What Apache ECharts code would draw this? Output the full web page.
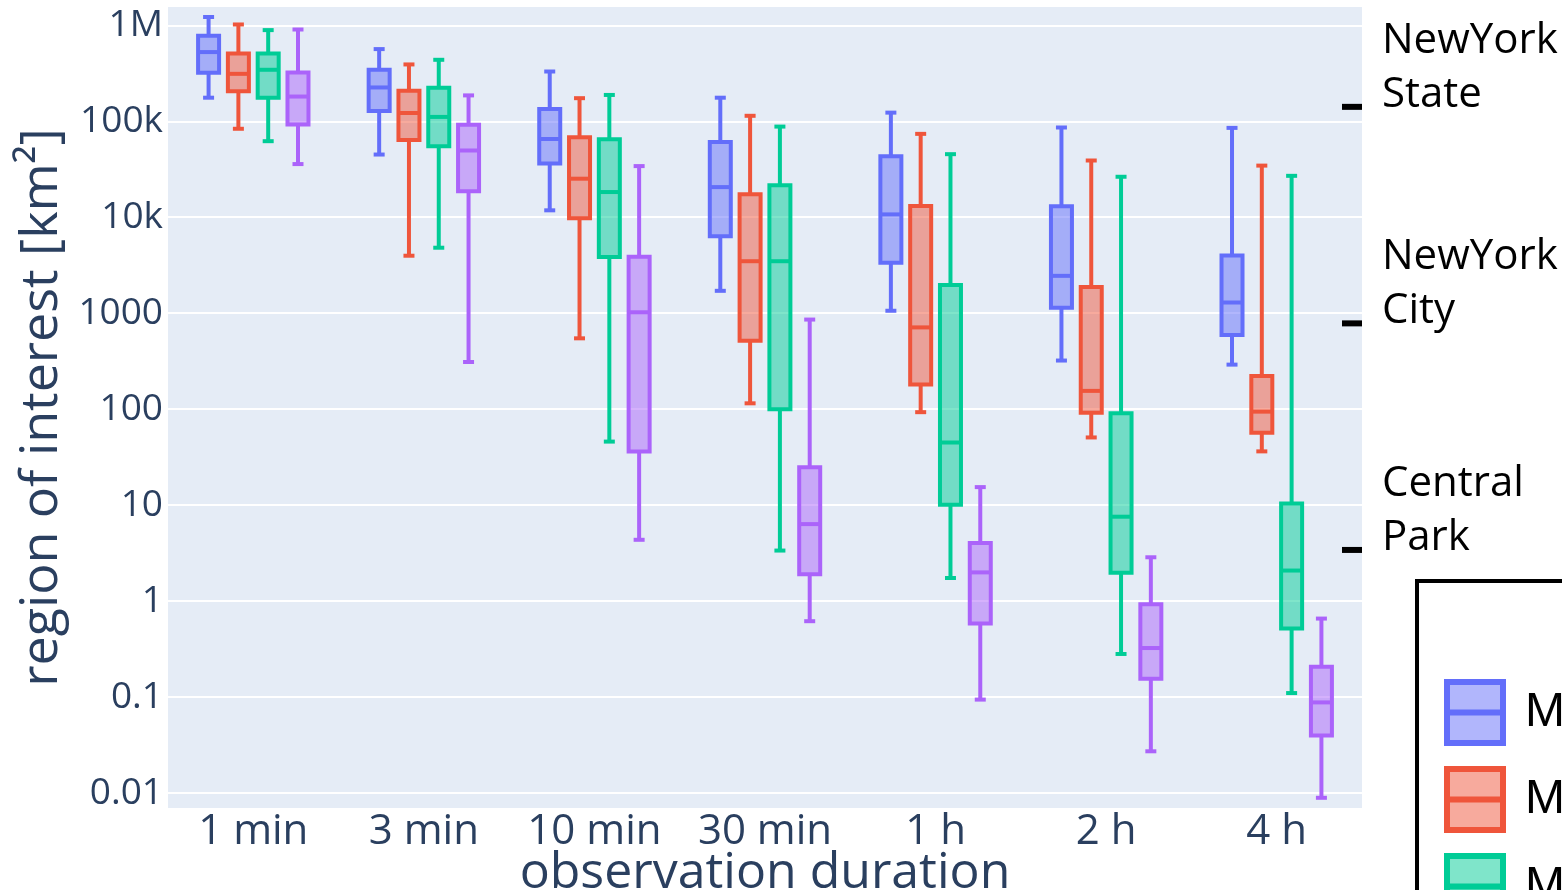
<!DOCTYPE html>
<html>
<head>
<meta charset="utf-8">
<script src="https://cdn.jsdelivr.net/npm/echarts@6/dist/echarts.min.js"></script>
<style>
html,body{margin:0;padding:0;background:#fff;}
#chart{width:1562px;height:890px;}
</style>
</head>
<body>
<div id="chart"></div>
<script>
// ---------------- data ----------------
const categories = ['1 min', '3 min', '10 min', '30 min', '1 h', '2 h', '4 h'];
const seriesNames = ['Method 1', 'Method 2', 'Method 3', 'Method 4'];

// each entry: [min, q1, median, q3, max] in km²
const methodA = [
  [176000, 320000, 526000, 778000, 1220000],
  [45000, 128000, 225000, 344000, 565000],
  [11800, 36300, 65300, 134000, 330000],
  [1710, 6340, 20600, 60900, 176000],
  [1060, 3360, 10700, 43300, 123000],
  [321, 1136, 2450, 13000, 86100],
  [291, 591, 1292, 3980, 85300]
];
const methodB = [
  [83500, 206000, 312000, 509000, 1020000],
  [3970, 63700, 122000, 208000, 391000],
  [547, 9770, 25200, 68000, 174000],
  [115, 517, 3480, 17400, 114000],
  [93, 181, 711, 13100, 73900],
  [50.7, 91.5, 155, 1875, 39000],
  [36.3, 56.8, 94.2, 222, 34500]
];
const methodC = [
  [62000, 176000, 344000, 509000, 891000],
  [4810, 55000, 111000, 223000, 437000],
  [45.9, 3860, 18300, 64900, 188000],
  [3.36, 99.7, 3480, 21500, 88000],
  [1.74, 10.1, 44.9, 1963, 45400],
  [0.281, 1.97, 7.57, 90.6, 26400],
  [0.11, 0.517, 2.08, 10.4, 27000]
];
const methodD = [
  [35800, 92600, 181000, 322000, 904000],
  [310, 18700, 49600, 92000, 186000],
  [4.35, 36.1, 1022, 3880, 34100],
  [0.617, 1.9, 6.34, 24.8, 858],
  [0.094, 0.585, 1.99, 4.02, 15.4],
  [0.0272, 0.155, 0.324, 0.924, 2.86],
  [0.00891, 0.0398, 0.0879, 0.207, 0.657]
];

const yTickValues = [0.01, 0.1, 1, 10, 100, 1000, 10000, 100000, 1000000];
const yTickLabels = ['0.01', '0.1', '1', '10', '100', '1000', '10k', '100k', '1M'];

const landmarkNames = ['NewYork\nState', 'NewYork\nCity', 'Central\nPark'];
const landmarkAreas = [141300, 783, 3.41];

// ---------------- style ----------------
const colors = ['#636efa', '#EF553B', '#00cc96', '#ab63fa'];
const fills = ['rgba(99,110,250,0.5)', 'rgba(239,85,59,0.5)', 'rgba(0,204,150,0.5)', 'rgba(171,99,250,0.5)'];
const offsets = [-44.7, -14.9, 14.9, 44.7];
const BOX_W = 21, CAP_W = 11, LW = 4;
const GRID = { left: 168, right: 200, top: 6, bottom: 81 };
const FONT = '"Open Sans", sans-serif';
const AXIS_COLOR = '#2a3f5f';

const allStats = [methodA, methodB, methodC, methodD];

function makeSeries(k) {
  return {
    type: 'custom',
    name: seriesNames[k],
    data: allStats[k].map((s, i) => [i].concat(s)),
    encode: { x: 0, y: [1, 2, 3, 4, 5] },
    itemStyle: { color: colors[k] },
    z: 2 + k,
    renderItem: function (params, api) {
      const ci = api.value(0);
      const pt = v => api.coord([ci, v]);
      const cx = pt(api.value(3))[0] + offsets[k];
      const yMin = pt(api.value(1))[1];
      const yQ1 = pt(api.value(2))[1];
      const yMed = pt(api.value(3))[1];
      const yQ3 = pt(api.value(4))[1];
      const yMax = pt(api.value(5))[1];
      const ls = { stroke: colors[k], lineWidth: LW, fill: null };
      return {
        type: 'group',
        children: [
          { type: 'line', shape: { x1: cx, y1: yMax, x2: cx, y2: yQ3 }, style: ls },
          { type: 'line', shape: { x1: cx, y1: yQ1, x2: cx, y2: yMin }, style: ls },
          { type: 'line', shape: { x1: cx - CAP_W / 2, y1: yMax, x2: cx + CAP_W / 2, y2: yMax }, style: ls },
          { type: 'line', shape: { x1: cx - CAP_W / 2, y1: yMin, x2: cx + CAP_W / 2, y2: yMin }, style: ls },
          { type: 'rect', shape: { x: cx - BOX_W / 2, y: yQ3, width: BOX_W, height: yQ1 - yQ3 },
            style: { fill: fills[k], stroke: colors[k], lineWidth: LW } },
          { type: 'line', shape: { x1: cx - BOX_W / 2, y1: yMed, x2: cx + BOX_W / 2, y2: yMed }, style: ls }
        ]
      };
    }
  };
}

const chart = echarts.init(document.getElementById('chart'), null, { renderer: 'canvas' });

const option = {
  backgroundColor: '#ffffff',
  animation: false,
  grid: {
    left: GRID.left, right: GRID.right, top: GRID.top, bottom: GRID.bottom,
    containLabel: false, outerBoundsMode: 'none',
    show: true, backgroundColor: '#e5ecf6', borderWidth: 0
  },
  legend: {
    orient: 'vertical',
    left: 1417, top: 581, width: 400, height: 330,
    padding: [98, 0, 0, 27],
    borderColor: '#000', borderWidth: 4, borderRadius: 0,
    itemWidth: 56, itemHeight: 61, itemGap: 20,
    textStyle: { fontSize: 48, fontFamily: '"Liberation Sans", Arial, sans-serif', color: '#000', padding: [0, 0, 0, 17] },
    data: seriesNames.map((n, k) => ({
      name: n,
      icon: 'path://M0,0H56V61H0ZM0,30.5H56',
      itemStyle: { color: fills[k], borderColor: colors[k], borderWidth: 6 }
    }))
  },
  xAxis: {
    type: 'category',
    data: categories,
    axisLine: { show: false },
    axisTick: { show: false },
    splitLine: { show: false },
    axisLabel: { interval: 0, hideOverlap: false, fontSize: 42, color: AXIS_COLOR, fontFamily: FONT, margin: 2 },
    name: 'observation duration',
    nameLocation: 'middle',
    nameMoveOverlap: false,
    nameGap: 40,
    nameTextStyle: { fontSize: 50, color: AXIS_COLOR, fontFamily: FONT }
  },
  yAxis: {
    type: 'log',
    logBase: 10,
    min: 0.00681,
    max: 1589000,
    axisLine: { show: false },
    axisTick: { show: false },
    splitLine: { show: true, lineStyle: { color: '#ffffff', width: 2 } },
    axisLabel: {
      fontSize: 37, color: AXIS_COLOR, fontFamily: FONT, margin: 5,
      showMinLabel: false, showMaxLabel: false,
      formatter: function (v) {
        for (let i = 0; i < yTickValues.length; i++) {
          if (Math.abs(Math.log10(v) - Math.log10(yTickValues[i])) < 1e-6) return yTickLabels[i];
        }
        return '';
      }
    },
    name: 'region of interest [km²]',
    nameLocation: 'middle',
    nameMoveOverlap: false,
    nameGap: 100,
    nameTextStyle: { fontSize: 52, color: AXIS_COLOR, fontFamily: FONT }
  },
  series: [0, 1, 2, 3].map(makeSeries)
};

chart.setOption(option);

// landmark reference marks at the right edge of the plot
const plotRight = 1562 - GRID.right;
const graphics = [];
landmarkAreas.forEach((a, i) => {
  const y = chart.convertToPixel({ yAxisIndex: 0 }, a);
  graphics.push({
    type: 'rect', z: 10,
    shape: { x: plotRight - 20, y: y - 3, width: 20, height: 6 },
    style: { fill: '#000' }
  });
  graphics.push({
    type: 'text', z: 10,
    x: plotRight + 20, y: y - 39,
    style: {
      text: landmarkNames[i], fontSize: 42, fontFamily: FONT, fill: '#000',
      lineHeight: 54, verticalAlign: 'middle', align: 'left'
    }
  });
});
chart.setOption({ graphic: graphics });
</script>
</body>
</html>
